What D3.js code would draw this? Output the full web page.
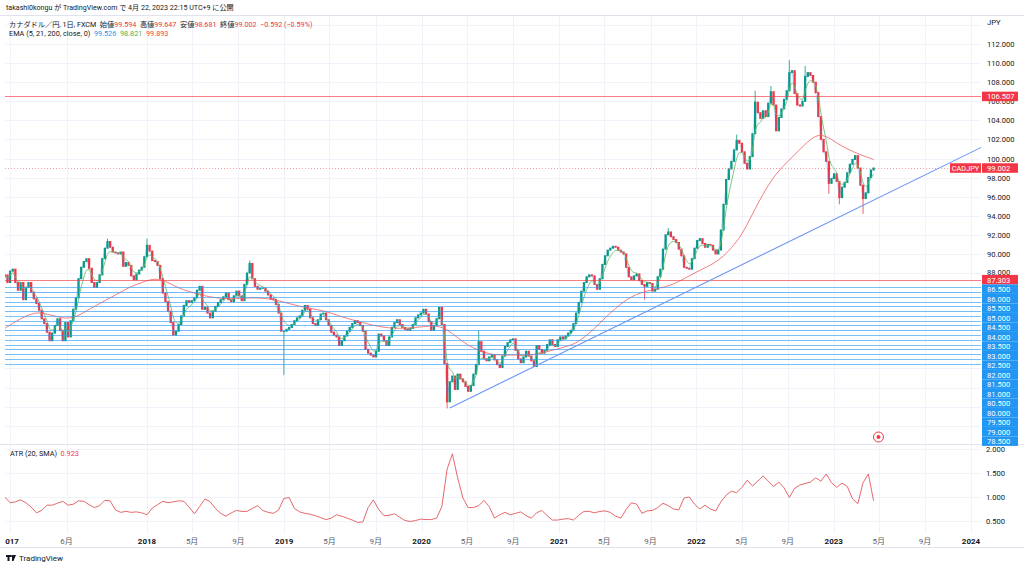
<!DOCTYPE html>
<html>
<head>
	<title>CADJPY 1日</title>
	<meta charset="utf-8" />
	<script src="https://cdn.jsdelivr.net/npm/d3@7"></script>
	<style>
		body, html { margin: 0; padding: 0; background: #fff; }
		svg { display: block; font-family: Roboto, "Noto Sans CJK JP", sans-serif; }
		text { white-space: pre; }
	</style>
</head>
<body>
	<svg id="chart" width="1024" height="568"></svg>
	<script>
		// weekly closes, first week 2016-12-19
		var closes = [
			87.8, 87.0, 88.2, 88.4, 87.0, 86.2, 87.0, 85.2, 86.5, 87.0,
			86.0, 85.3, 84.8, 84.1, 83.2, 82.7, 81.8, 80.9, 81.7, 82.5,
			83.2, 82.0, 80.9, 82.8, 81.3, 83.0, 84.2, 85.4, 87.4, 88.6,
			89.2, 89.5, 88.5, 87.0, 86.5, 87.0, 87.8, 89.5, 90.6, 91.3,
			90.7, 90.2, 90.1, 90.0, 90.2, 88.7, 89.1, 88.8, 87.7, 87.3,
			87.9, 88.3, 88.6, 89.7, 90.9, 90.3, 89.3, 89.2, 88.8, 87.4,
			85.9, 85.0, 84.0, 82.8, 81.5, 81.9, 82.6, 83.5, 84.6, 85.1,
			84.9, 85.1, 85.4, 86.2, 86.6, 84.2, 84.4, 83.8, 83.3, 84.0,
			84.5, 84.9, 85.2, 85.5, 85.9, 85.2, 85.0, 85.6, 86.1, 85.6,
			85.1, 86.8, 88.0, 89.0, 87.4, 86.6, 86.3, 86.4, 86.4, 86.1,
			85.7, 85.3, 85.2, 84.7, 83.8, 81.9, 81.9, 82.1, 82.3, 82.6,
			83.0, 83.3, 83.5, 84.1, 84.6, 84.2, 83.3, 82.7, 82.5, 83.1,
			83.7, 83.8, 83.1, 82.5, 81.8, 81.5, 81.3, 80.4, 80.9, 81.4,
			81.9, 82.3, 82.7, 83.0, 82.8, 82.5, 81.9, 80.0, 79.6, 79.4,
			79.2, 79.8, 81.6, 81.4, 80.9, 80.4, 81.3, 82.3, 82.8, 83.1,
			82.6, 82.3, 82.1, 82.0, 82.2, 82.6, 83.3, 83.6, 83.8, 84.2,
			83.7, 82.9, 82.0, 82.5, 83.2, 84.4, 82.6, 78.5, 74.5, 76.6,
			77.2, 75.8, 77.4, 76.9, 76.6, 76.1, 75.6, 76.2, 77.4, 78.4,
			80.8, 79.8, 79.0, 78.8, 79.2, 79.4, 78.9, 78.4, 78.1, 79.3,
			80.3, 80.7, 81.0, 81.1, 79.9, 79.0, 78.6, 79.2, 79.8, 79.3,
			78.8, 78.2, 80.4, 80.0, 79.6, 79.9, 80.5, 81.0, 80.5, 80.3,
			81.0, 81.3, 81.1, 81.4, 81.7, 82.0, 82.7, 83.8, 84.9, 86.1,
			87.0, 87.6, 87.8, 87.7, 86.8, 86.3, 87.4, 88.9, 89.8, 90.4,
			90.6, 90.8, 90.7, 90.4, 90.2, 90.0, 88.6, 87.6, 87.3, 87.7,
			87.9, 87.2, 86.8, 86.6, 87.0, 86.9, 86.1, 86.3, 87.6, 88.4,
			90.5, 92.0, 92.3, 91.8, 91.5, 91.2, 90.5, 89.8, 88.6, 88.5,
			88.4, 89.5, 90.6, 91.4, 91.6, 91.1, 90.7, 91.0, 90.9, 90.4,
			90.0, 90.4, 92.5, 95.2, 97.8, 98.9, 99.7, 100.9, 101.9, 101.6,
			100.7, 99.5, 98.9, 100.2, 102.6, 105.9, 104.8, 104.2, 105.0, 104.4,
			105.8, 107.0, 105.6, 102.9, 104.3, 105.2, 106.2, 107.1, 109.0, 109.2,
			106.8, 105.6, 105.5, 106.0, 108.6, 109.0, 108.7, 108.0, 106.9, 104.4,
			102.0, 100.7, 99.7, 97.4, 97.9, 98.4, 97.6, 95.9, 97.0, 97.5,
			98.5, 99.4, 99.9, 100.3, 99.0, 97.2, 95.8, 96.4, 98.0, 98.8,
			99.002
		];
		var firstOpen = 87.6;

		// long wicks that stick out of the weekly bodies
		var spikeIdx = [39, 54, 93, 106, 168, 180, 243, 252, 278, 285, 291, 298, 304, 313, 317, 326];
		var spikeVal = [91.6, 91.6, 89.3, 77.3, 73.8, 82.0, 85.2, 92.7, 102.5, 107.1, 107.6, 110.3, 109.7, 96.3, 95.2, 94.2];

		// EMA 200, one value every 4 weeks (last one is the last bar)
		var ema200 = [
			82.2, 82.9, 83.5, 83.9, 83.7, 83.4, 83.2, 83.5, 84.2, 84.8,
			85.4, 86.0, 86.6, 87.0, 87.4, 87.3, 86.7, 86.2, 85.9, 85.6,
			85.4, 85.3, 85.3, 85.4, 85.4, 85.3, 85.1, 84.8, 84.5, 84.3,
			84.1, 83.8, 83.4, 83.1, 82.8, 82.5, 82.3, 82.2, 82.2, 82.3,
			82.4, 82.5, 82.1, 81.2, 80.4, 79.9, 79.5, 79.4, 79.4, 79.4,
			79.4, 79.6, 79.9, 80.2, 80.5, 81.2, 82.2, 83.3, 84.3, 85.2,
			85.8, 86.1, 86.4, 86.6, 87.1, 87.7, 88.3, 88.8, 89.5, 90.6,
			92.0, 94.2, 96.3, 98.1, 99.3, 100.4, 101.5, 102.5, 102.4, 101.6,
			101.0, 100.5, 100.1, 99.893
		];

		// ATR (20, SMA), one value every 2 weeks
		var atr = [
			1.0, 0.88, 0.9, 0.94, 0.88, 0.79, 0.67, 0.72, 0.83, 0.83,
			0.87, 0.91, 0.83, 0.85, 0.92, 0.91, 0.84, 0.78, 0.82, 0.93,
			0.92, 0.73, 0.68, 0.70, 0.68, 0.69, 0.67, 0.63, 0.77, 0.84,
			0.91, 0.88, 0.9, 0.92, 0.91, 0.79, 0.65, 0.8, 0.96, 0.9,
			0.76, 0.66, 0.6, 0.67, 0.72, 0.7, 0.7, 0.76, 0.82, 0.72,
			0.68, 0.66, 0.73, 0.97, 0.99, 0.76, 0.69, 0.66, 0.64, 0.61,
			0.57, 0.53, 0.56, 0.63, 0.6, 0.56, 0.52, 0.47, 0.48, 0.78,
			0.94, 0.74, 0.61, 0.62, 0.65, 0.58, 0.51, 0.49, 0.51, 0.54,
			0.53, 0.53, 0.56, 0.8, 1.58, 1.9, 1.4, 0.98, 0.78, 0.78,
			0.82, 0.93, 0.8, 0.56, 0.63, 0.68, 0.63, 0.66, 0.69, 0.61,
			0.56, 0.67, 0.72, 0.61, 0.52, 0.52, 0.54, 0.55, 0.52, 0.62,
			0.7, 0.7, 0.67, 0.7, 0.71, 0.68, 0.6, 0.56, 0.74, 0.88,
			0.85, 0.66, 0.71, 0.72, 0.78, 0.87, 0.82, 0.75, 0.73, 0.98,
			1.0, 0.85, 0.75, 0.83, 0.75, 0.71, 0.9, 1.04, 1.12, 1.09,
			1.2, 1.35, 1.23, 1.33, 1.44, 1.33, 1.22, 1.31, 1.19, 0.99,
			1.18, 1.25, 1.28, 1.31, 1.4, 1.33, 1.48, 1.3, 1.2, 1.29,
			1.22, 0.96, 0.86, 1.3, 1.48, 0.923
		];

		// horizontal drawings
		var blueLevels = [86.5, 86, 85.5, 85, 84.5, 84, 83.5, 83, 82.5, 82, 81.5, 81, 80.5, 80, 79.5, 79, 78.5];
		var redLevels = [106.507, 87.303];
		var lastPrice = 99.002;
		var trendDates = ["2020-03-16", "2024-01-30"];
		var trendValues = [73.85, 101.2];

		// price labels below 88 sit under the blue label stack, so only these show
		var priceTicks = [112, 110, 108, 106, 104, 102, 100, 98, 96, 94, 92, 90, 88];
		var atrTicks = [2, 1.5, 1, 0.5];
		var timeTicks = ["2017-01-01", "2017-06-01", "2018-01-01", "2018-05-01", "2018-09-01", "2019-01-01", "2019-05-01", "2019-09-01",
			"2020-01-01", "2020-05-01", "2020-09-01", "2021-01-01", "2021-05-01", "2021-09-01", "2022-01-01", "2022-05-01", "2022-09-01",
			"2023-01-01", "2023-05-01", "2023-09-01", "2024-01-01"];
		var timeLabels = ["2017", "6月", "2018", "5月", "9月", "2019", "5月", "9月", "2020", "5月", "9月", "2021", "5月", "9月",
			"2022", "5月", "9月", "2023", "5月", "9月", "2024"];

		var parseDate = d3.timeParse("%Y-%m-%d");
		var weeks = d3.timeMonday.range(parseDate("2016-12-19"), parseDate("2023-04-18"));

		var left = 5, right = 981, mainTop = 15, mainBottom = 444, atrBottom = 533;
		var upColor = "#089981", downColor = "#f23645";

		var x = d3.scaleTime().domain([parseDate("2018-01-01"), parseDate("2024-01-01")]).range([147, 971]);
		var y = d3.scaleLinear().domain([88, 112]).range([273, 44]);
		var yAtr = d3.scaleLinear().domain([0.5, 2]).range([521, 449]);

		var svg = d3.select("#chart");
		svg.append("rect").attr("width", 1024).attr("height", 568).attr("fill", "#fff");

		var defs = svg.append("defs");
		defs.append("clipPath").attr("id", "mainClip").append("rect")
			.attr("x", left).attr("y", mainTop).attr("width", right - left).attr("height", mainBottom - mainTop);
		defs.append("clipPath").attr("id", "atrClip").append("rect")
			.attr("x", left).attr("y", mainBottom).attr("width", right - left).attr("height", atrBottom - mainBottom);
		defs.append("clipPath").attr("id", "timeClip").append("rect")
			.attr("x", left).attr("y", atrBottom).attr("width", right - left).attr("height", 20);

		// grid
		var grid = svg.append("g").attr("stroke", "#f0f3fa").attr("stroke-width", 1);
		timeTicks.forEach(function (d) {
			var gx = Math.round(x(parseDate(d))) + 0.5;
			if (gx > left) grid.append("line").attr("x1", gx).attr("x2", gx).attr("y1", mainTop).attr("y2", atrBottom);
		});
		d3.range(72, 116, 2).forEach(function (v) {
			var gy = Math.round(y(v)) + 0.5;
			if (gy > mainTop && gy < mainBottom) grid.append("line").attr("x1", left).attr("x2", right).attr("y1", gy).attr("y2", gy);
		});
		atrTicks.forEach(function (v) {
			var gy = Math.round(yAtr(v)) + 0.5;
			grid.append("line").attr("x1", left).attr("x2", right).attr("y1", gy).attr("y2", gy);
		});

		// pane borders
		var borders = svg.append("g").attr("stroke", "#e0e3eb").attr("stroke-width", 1);
		borders.append("line").attr("x1", 0).attr("x2", 1024).attr("y1", mainTop + 0.5).attr("y2", mainTop + 0.5);
		borders.append("line").attr("x1", 0).attr("x2", 1024).attr("y1", mainBottom + 0.5).attr("y2", mainBottom + 0.5);
		borders.append("line").attr("x1", 0).attr("x2", 1024).attr("y1", 547.5).attr("y2", 547.5);

		var main = svg.append("g").attr("clip-path", "url(#mainClip)");

		// weekly candles
		var candles = closes.map(function (c, i) {
			var o = i ? closes[i - 1] : firstOpen;
			var hi = Math.max(o, c), lo = Math.min(o, c);
			var k = spikeIdx.indexOf(i);
			if (k >= 0) {
				hi = Math.max(hi, spikeVal[k]);
				lo = Math.min(lo, spikeVal[k]);
			}
			return { date: weeks[i], o: o, c: c, h: hi, l: lo };
		});

		var cg = main.append("g");
		cg.selectAll("line").data(candles).enter().append("line")
			.attr("x1", function (d) { return x(d.date); })
			.attr("x2", function (d) { return x(d.date); })
			.attr("y1", function (d) { return y(d.h); })
			.attr("y2", function (d) { return y(d.l); })
			.attr("stroke", function (d) { return d.c >= d.o ? upColor : downColor; })
			.attr("stroke-width", 0.8);
		cg.selectAll("rect").data(candles).enter().append("rect")
			.attr("x", function (d) { return x(d.date) - 1.15; })
			.attr("width", 2.3)
			.attr("y", function (d) { return y(Math.max(d.o, d.c)) - 0.5; })
			.attr("height", function (d) { return Math.abs(y(d.o) - y(d.c)) + 1; })
			.attr("fill", function (d) { return d.c >= d.o ? upColor : downColor; });

		// EMAs of the weekly closes (daily lengths 5 and 21 turned into weekly weights)
		function ema(alpha) {
			var out = [], prev = closes[0];
			closes.forEach(function (c, i) {
				prev = i ? prev + alpha * (c - prev) : c;
				out.push({ date: weeks[i], v: prev });
			});
			return out;
		}
		var ema21 = ema(0.379), ema5 = ema(0.868);
		var ema200Pts = ema200.map(function (v, k) { return { date: weeks[Math.min(k * 4, weeks.length - 1)], v: v }; });

		var line = d3.line().x(function (d) { return x(d.date); }).y(function (d) { return y(d.v); });
		main.append("path").datum(ema5).attr("d", line).attr("fill", "none").attr("stroke", "#2196f3").attr("stroke-opacity", 0.35).attr("stroke-width", 0.8);
		main.append("path").datum(ema21).attr("d", line.curve(d3.curveMonotoneX)).attr("fill", "none").attr("stroke", "#66bb6a").attr("stroke-opacity", 0.85).attr("stroke-width", 1);
		main.append("path").datum(ema200Pts).attr("d", line.curve(d3.curveBasis)).attr("fill", "none").attr("stroke", "#f25c5c").attr("stroke-opacity", 0.8).attr("stroke-width", 1);

		// horizontal lines
		blueLevels.forEach(function (v) {
			var ly = Math.round(y(v)) + 0.5;
			main.append("line").attr("x1", left).attr("x2", right).attr("y1", ly).attr("y2", ly)
				.attr("stroke", "#2196f3").attr("stroke-opacity", 0.6).attr("stroke-width", 1);
		});
		redLevels.forEach(function (v) {
			var ly = Math.round(y(v)) + 0.5;
			main.append("line").attr("x1", left).attr("x2", right).attr("y1", ly).attr("y2", ly)
				.attr("stroke", "#f23645").attr("stroke-opacity", 0.65).attr("stroke-width", 1);
		});
		main.append("line").attr("x1", left).attr("x2", right)
			.attr("y1", Math.round(y(lastPrice)) + 0.5).attr("y2", Math.round(y(lastPrice)) + 0.5)
			.attr("stroke", "#f23645").attr("stroke-opacity", 0.5).attr("stroke-dasharray", "1,2");

		// trend line
		main.append("line")
			.attr("x1", x(parseDate(trendDates[0]))).attr("y1", y(trendValues[0]))
			.attr("x2", x(parseDate(trendDates[1]))).attr("y2", y(trendValues[1]))
			.attr("stroke", "#6b95f5").attr("stroke-width", 1.1);

		// event marker
		var mk = svg.append("g").attr("transform", "translate(" + x(parseDate("2023-04-30")) + ",437)");
		mk.append("circle").attr("r", 5).attr("fill", "#fff").attr("stroke", "#f23645").attr("stroke-width", 1);
		mk.append("circle").attr("r", 2).attr("fill", "#f23645");

		// ATR pane
		var atrPts = atr.map(function (v, m) { return { date: weeks[Math.min(m * 2, weeks.length - 1)], v: v }; });
		svg.append("g").attr("clip-path", "url(#atrClip)").append("path").datum(atrPts)
			.attr("d", d3.line().x(function (d) { return x(d.date); }).y(function (d) { return yAtr(d.v); }))
			.attr("fill", "none").attr("stroke", "#e2575b").attr("stroke-width", 0.9);

		// price scale
		var scale = svg.append("g").attr("font-size", 7.6).attr("fill", "#131722");
		priceTicks.forEach(function (v) {
			// 88.000 sits right above the 87.303 label, nudge it clear
			var dy = v === 88 ? 1.5 : 3;
			scale.append("text").attr("x", 987).attr("y", y(v) + dy).text(v.toFixed(3));
		});
		atrTicks.forEach(function (v) {
			scale.append("text").attr("x", 986).attr("y", yAtr(v) + 3).text(v.toFixed(3));
		});
		scale.append("text").attr("x", 987).attr("y", 25).text("JPY");

		// coloured labels, pushed down where they would overlap
		var boxes = [{ v: 106.507, color: "#f23645" }, { v: lastPrice, color: "#f23645" }, { v: 87.303, color: "#f23645" }];
		blueLevels.forEach(function (v) { boxes.push({ v: v, color: "#2196f3" }); });
		boxes.sort(function (a, b) { return b.v - a.v; });
		var boxH = 9.5, prevY = -100;
		boxes.forEach(function (b) {
			var cy = Math.max(y(b.v), prevY + boxH);
			prevY = cy;
			svg.append("rect").attr("x", 982).attr("y", cy - boxH / 2).attr("width", 36).attr("height", boxH).attr("fill", b.color);
			svg.append("text").attr("x", 987).attr("y", cy + 3).attr("font-size", 7.6).attr("fill", "#fff").text(b.v.toFixed(3));
		});
		var ly = y(lastPrice);
		svg.append("rect").attr("x", 950).attr("y", ly - boxH / 2).attr("width", 31).attr("height", boxH).attr("fill", "#f23645");
		svg.append("text").attr("x", 965.5).attr("y", ly + 3).attr("font-size", 7.3).attr("fill", "#fff")
			.attr("text-anchor", "middle").text("CADJPY");

		// time scale
		var ts = svg.append("g").attr("clip-path", "url(#timeClip)").attr("font-size", 8).attr("text-anchor", "middle");
		timeTicks.forEach(function (d, i) {
			var isYear = /^\d{4}$/.test(timeLabels[i]);
			ts.append("text").attr("x", x(parseDate(d))).attr("y", 543.5)
				.attr("font-weight", isYear ? "bold" : "normal")
				.attr("fill", isYear ? "#131722" : "#5d606b")
				.text(timeLabels[i]);
		});

		// header and legends
		svg.append("text").attr("x", 6).attr("y", 10).attr("font-size", 7.1).attr("fill", "#131722")
			.text("takashi0kongu が TradingView.com で 4月 22, 2023 22:15 UTC+9 に公開");

		var red = "#f23645";
		var l2 = svg.append("text").attr("x", 9).attr("y", 26.5).attr("font-size", 7.2).attr("fill", "#131722");
		l2.append("tspan").text("カナダドル／円, 1日, FXCM  ");
		[["始値", "99.594"], ["高値", "99.647"], ["安値", "98.681"], ["終値", "99.002"]].forEach(function (p) {
			l2.append("tspan").text(p[0]);
			l2.append("tspan").attr("fill", red).text(p[1] + "  ");
		});
		l2.append("tspan").attr("fill", red).text("−0.592 (−0.59%)");

		var l3 = svg.append("text").attr("x", 9).attr("y", 36).attr("font-size", 7.3).attr("fill", "#131722");
		l3.append("tspan").text("EMA (5, 21, 200, close, 0)  ");
		l3.append("tspan").attr("fill", "#2196f3").text("99.526  ");
		l3.append("tspan").attr("fill", "#4caf50").text("98.821  ");
		l3.append("tspan").attr("fill", "#f44336").text("99.893");

		var l4 = svg.append("text").attr("x", 10).attr("y", 456).attr("font-size", 7.3).attr("fill", "#131722");
		l4.append("tspan").text("ATR (20, SMA)  ");
		l4.append("tspan").attr("fill", red).text("0.923");

		// logo
		var logo = svg.append("g").attr("transform", "translate(6,555)").attr("fill", "#131722");
		logo.append("rect").attr("x", 0).attr("y", 0).attr("width", 5).attr("height", 2);
		logo.append("rect").attr("x", 1.5).attr("y", 0).attr("width", 2).attr("height", 6);
		logo.append("path").attr("d", "M6,0 L10,0 L7.5,6 L6,6 Z");
		logo.append("circle").attr("cx", 6).attr("cy", 1).attr("r", 1);
		svg.append("text").attr("x", 19).attr("y", 561).attr("font-size", 8).attr("fill", "#131722").text("TradingView");
	</script>
</body>
</html>
